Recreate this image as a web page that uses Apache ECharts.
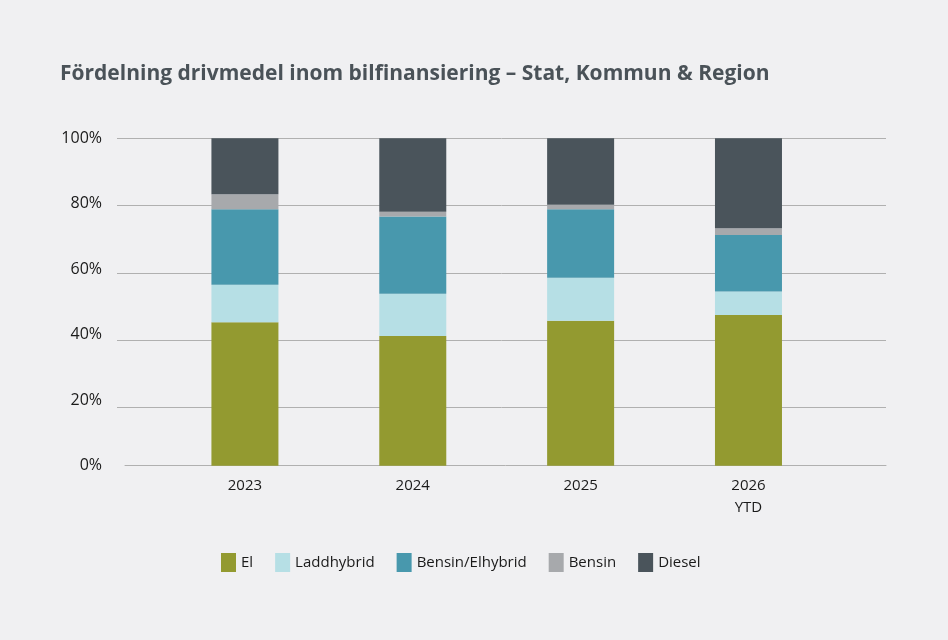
<!DOCTYPE html>
<html>
<head>
<meta charset="utf-8">
<title>Fördelning drivmedel</title>
<script src="https://cdn.jsdelivr.net/npm/echarts@6/dist/echarts.min.js"></script>
<style>
html, body { margin: 0; padding: 0; background: #f0f0f2; }
#chart { width: 948px; height: 640px; }
</style>
</head>
<body>
<div id="chart"></div>
<script>
// categories + shares (%) per fuel type
const years = ['2023', '2024', '2025', '2026\nYTD'];
const el = [43.8, 39.6, 44.3, 46.0];
const laddhybrid = [11.5, 12.9, 13.1, 7.2];
const bensinElhybrid = [23.0, 23.6, 20.9, 17.3];
const bensin = [4.6, 1.5, 1.4, 2.0];
const diesel = [17.1, 22.4, 20.3, 27.5];
const yTicks = [0, 20, 40, 60, 80, 100];

const colors = ['#939a30', '#b6dfe5', '#4898ad', '#a7a9ac', '#4a545b'];
const font = '"Open Sans", sans-serif';

const mk = (name, data) => ({
  name: name,
  type: 'bar',
  stack: 'total',
  xAxisIndex: 1,
  yAxisIndex: 1,
  barWidth: 67,
  data: data
});

const chart = echarts.init(document.getElementById('chart'), null, { renderer: 'canvas' });
chart.setOption({
  backgroundColor: '#f0f0f2',
  animation: false,
  color: colors,
  title: {
    text: 'Fördelning drivmedel inom bilfinansiering – Stat, Kommun & Region',
    left: 55,
    top: 59,
    textStyle: { fontFamily: font, fontSize: 21, fontWeight: 'bold', color: '#4a5258' }
  },
  legend: {
    bottom: 63,
    left: 216,
    itemWidth: 15,
    itemHeight: 19,
    itemGap: 22,
    icon: 'rect',
    textStyle: { fontFamily: font, fontSize: 15, color: '#1a1a1a' },
    data: ['El', 'Laddhybrid', 'Bensin/Elhybrid', 'Bensin', 'Diesel']
  },
  grid: [
    // gridlines 20..100 (wide)
    { left: 117, right: 62, top: 138.3, bottom: 165.4 },
    // bars
    { left: 161, right: 115.6, top: 138.3, bottom: 174.3 },
    // zero line
    { left: 125, right: 62, top: 138.3, bottom: 174.3 }
  ],
  xAxis: [
    { gridIndex: 0, type: 'category', data: years, show: false },
    {
      gridIndex: 1, type: 'category', data: years,
      axisLine: { show: false }, axisTick: { show: false },
      axisLabel: { fontFamily: font, fontSize: 15, color: '#1a1a1a', margin: 9, lineHeight: 22 }
    },
    {
      gridIndex: 2, type: 'category', data: years,
      axisLine: { show: true, lineStyle: { color: '#b0b0b0', width: 1 } },
      axisTick: { show: false }, axisLabel: { show: false }
    }
  ],
  yAxis: [
    {
      gridIndex: 0, type: 'value', min: 0, max: 100, interval: 20,
      axisLine: { show: false }, axisTick: { show: false }, axisLabel: { show: false },
      splitLine: { show: true, showMinLine: false, lineStyle: { color: '#b0b0b0', width: 1 } }
    },
    {
      gridIndex: 1, type: 'value', min: 0, max: 100, interval: 20,
      axisLine: { show: false }, axisTick: { show: false }, splitLine: { show: false },
      axisLabel: {
        fontFamily: font, fontSize: 16, color: '#1a1a1a', margin: 59,
        padding: [0, 0, 9, 0],
        formatter: v => yTicks.includes(v) ? v + '%' : ''
      }
    },
    { gridIndex: 2, type: 'value', min: 0, max: 100, show: false }
  ],
  series: [
    mk('El', el),
    mk('Laddhybrid', laddhybrid),
    mk('Bensin/Elhybrid', bensinElhybrid),
    mk('Bensin', bensin),
    mk('Diesel', diesel)
  ]
});
</script>
</body>
</html>
